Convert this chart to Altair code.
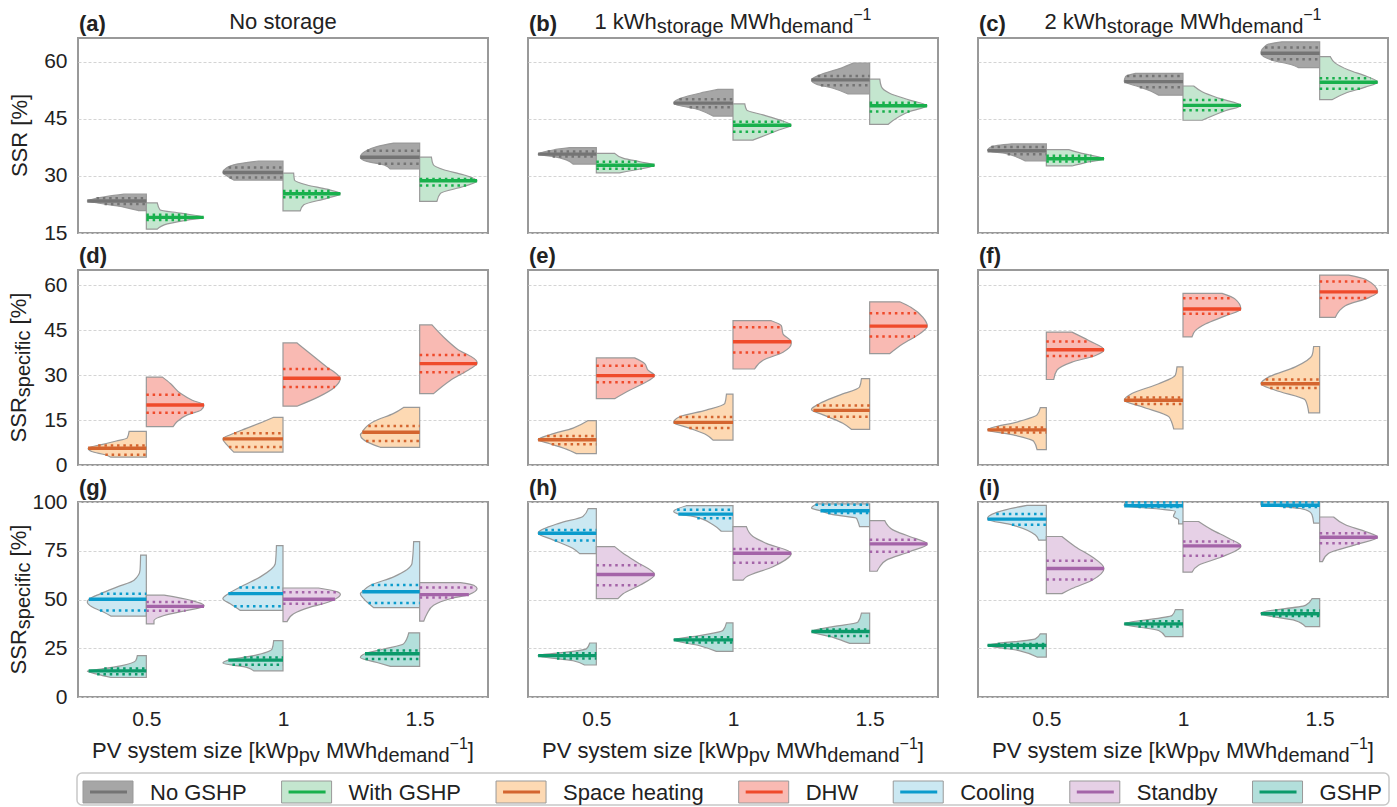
import altair as alt
import numpy as np
import pandas as pd

FONT = "Liberation Sans"
TEXT_COLOR = "#222222"

PV_SIZES = [0.5, 1.0, 1.5]
SERIES = ["No GSHP", "With GSHP", "Space heating", "DHW", "Cooling", "Standby", "GSHP"]
FILL_COLORS = ["#a6a6a6", "#c4e6cf", "#fdd9b3", "#f9bab3", "#cbe8f2", "#e6d0e6", "#b3dfdb"]
LINE_COLORS = ["#747474", "#18b04c", "#d4652f", "#ef4a2b", "#0a9bcc", "#a464a8", "#0b9a6a"]
RIGHT_SIDE = ["With GSHP", "DHW", "Standby"]

ROW_Y_DOMAINS = [[15, 66.2], [0, 65], [0, 100]]
ROW_Y_TICKS = [[15, 30, 45, 60], [0, 15, 30, 45, 60], [0, 25, 50, 75, 100]]

# each violin half: (pv size, series, values top->bottom, half widths, q1, median, q3)
PANEL_A = [
    (0.5, "No GSHP", [25.2, 24.6, 24.0, 23.4, 23.0, 22.1, 20.9], [0.082, 0.143, 0.19, 0.216, 0.19, 0.106, 0.03], 22.6, 23.4, 24.1),
    (0.5, "With GSHP", [22.9, 21.1, 20.2, 19.1, 18.4, 17.4, 16.0], [0.04, 0.05, 0.126, 0.21, 0.15, 0.077, 0.04], 18.4, 19.1, 19.8),
    (1.0, "No GSHP", [33.9, 32.9, 31.6, 30.9, 29.8, 28.9], [0.089, 0.18, 0.215, 0.22, 0.2, 0.18], 29.6, 30.9, 32.2),
    (1.0, "With GSHP", [30.7, 28.9, 27.6, 26.5, 25.3, 24.1, 22.4, 20.8], [0.039, 0.042, 0.088, 0.16, 0.21, 0.16, 0.076, 0.063], 24.4, 25.3, 26.0),
    (1.5, "No GSHP", [38.6, 37.7, 36.4, 34.9, 33.8, 32.9, 31.8], [0.095, 0.156, 0.2, 0.217, 0.193, 0.13, 0.107], 33.2, 34.9, 36.6),
    (1.5, "With GSHP", [34.9, 32.9, 31.6, 30.3, 28.7, 27.2, 25.4, 23.3], [0.043, 0.05, 0.088, 0.16, 0.21, 0.16, 0.076, 0.063], 27.5, 28.7, 29.2),
]
PANEL_B = [
    (0.5, "No GSHP", [37.4, 36.8, 35.7, 35.1, 34.2, 33.1], [0.098, 0.158, 0.213, 0.16, 0.11, 0.085], 35.1, 35.7, 36.4),
    (0.5, "With GSHP", [35.9, 34.6, 33.7, 32.8, 31.8, 30.8], [0.067, 0.1, 0.16, 0.213, 0.16, 0.085], 31.9, 32.8, 33.7),
    (1.0, "No GSHP", [52.7, 51.7, 50.4, 49.1, 47.3, 45.7], [0.055, 0.122, 0.19, 0.217, 0.122, 0.073], 48.0, 49.1, 50.1),
    (1.0, "With GSHP", [48.9, 47.3, 46.0, 44.7, 43.3, 42.1, 39.4], [0.043, 0.05, 0.11, 0.17, 0.213, 0.17, 0.073], 41.6, 43.3, 44.2),
    (1.5, "No GSHP", [59.6, 58.3, 56.5, 55.2, 54.1, 53.0, 51.5], [0.06, 0.104, 0.183, 0.213, 0.195, 0.134, 0.079], 53.8, 55.2, 56.2),
    (1.5, "With GSHP", [55.4, 53.4, 51.7, 49.9, 48.4, 46.9, 43.5], [0.037, 0.043, 0.073, 0.146, 0.21, 0.146, 0.067], 46.9, 48.4, 49.2),
]
PANEL_C = [
    (0.5, "No GSHP", [38.4, 37.7, 36.6, 35.9, 34.9, 33.9], [0.126, 0.2, 0.215, 0.15, 0.107, 0.077], 35.7, 36.6, 37.6),
    (0.5, "With GSHP", [36.9, 35.9, 34.5, 33.5, 32.6], [0.082, 0.13, 0.211, 0.143, 0.094], 33.8, 34.5, 35.3),
    (1.0, "No GSHP", [56.9, 56.1, 54.75, 53.4, 52.1, 51.2], [0.174, 0.21, 0.215, 0.162, 0.113, 0.089], 53.3, 54.75, 56.2),
    (1.0, "With GSHP", [53.6, 52.1, 50.4, 48.5, 47.1, 44.6], [0.039, 0.07, 0.13, 0.212, 0.155, 0.07], 47.2, 48.5, 49.9),
    (1.5, "No GSHP", [65.2, 64.4, 62.2, 60.4, 59.1, 58.4], [0.138, 0.193, 0.215, 0.174, 0.1, 0.077], 60.6, 62.2, 63.7),
    (1.5, "With GSHP", [61.3, 59.6, 57.8, 56.1, 54.6, 53.3, 51.7, 50.0], [0.039, 0.057, 0.106, 0.173, 0.212, 0.167, 0.094, 0.045], 52.9, 54.6, 55.6),
]
PANEL_D = [
    (0.5, "Space heating", [11.2, 9.0, 8.0, 6.9, 5.6, 4.5, 3.4, 2.6], [0.063, 0.07, 0.11, 0.16, 0.213, 0.2, 0.15, 0.13], 3.4, 5.6, 6.5),
    (0.5, "DHW", [29.3, 27.1, 23.8, 21.6, 20.0, 18.3, 16.7, 14.5, 12.8], [0.059, 0.089, 0.126, 0.168, 0.211, 0.2, 0.15, 0.113, 0.098], 17.4, 20.0, 23.4),
    (1.0, "Space heating", [15.9, 14.5, 12.3, 10.1, 8.7, 6.7, 4.3], [0.034, 0.07, 0.132, 0.193, 0.22, 0.205, 0.18], 6.0, 8.7, 10.6),
    (1.0, "DHW", [40.7, 37.1, 32.7, 30.0, 28.9, 26.0, 22.7, 19.6], [0.051, 0.1, 0.16, 0.2, 0.21, 0.19, 0.13, 0.051], 26.0, 28.9, 32.0),
    (1.5, "Space heating", [19.2, 17.2, 14.5, 11.7, 10.9, 10.1, 8.4, 6.7, 5.9], [0.059, 0.095, 0.168, 0.205, 0.21, 0.217, 0.205, 0.168, 0.144], 8.0, 10.9, 13.0),
    (1.5, "DHW", [46.7, 42.6, 38.7, 34.3, 33.8, 32.1, 28.2, 23.8], [0.045, 0.088, 0.137, 0.21, 0.21, 0.185, 0.112, 0.051], 30.9, 33.8, 36.7),
]
PANEL_E = [
    (0.5, "Space heating", [14.8, 12.3, 10.1, 8.4, 7.1, 5.3, 3.8], [0.03, 0.085, 0.17, 0.213, 0.17, 0.11, 0.073], 6.9, 8.4, 9.7),
    (0.5, "DHW", [35.7, 33.8, 31.6, 29.8, 27.1, 24.9, 22.1], [0.14, 0.177, 0.189, 0.213, 0.17, 0.122, 0.067], 27.6, 29.8, 33.1),
    (1.0, "Space heating", [23.6, 20.5, 18.3, 16.1, 14.2, 12.3, 10.1, 8.3], [0.024, 0.03, 0.098, 0.195, 0.217, 0.16, 0.098, 0.073], 12.3, 14.2, 16.0),
    (1.0, "DHW", [48.1, 46.4, 43.7, 41.1, 40.4, 37.6, 34.9, 32.0], [0.14, 0.177, 0.183, 0.213, 0.213, 0.183, 0.11, 0.079], 37.5, 41.1, 45.9),
    (1.5, "Space heating", [28.8, 26.0, 23.3, 20.5, 18.5, 16.7, 13.9, 11.9], [0.03, 0.037, 0.11, 0.183, 0.213, 0.17, 0.098, 0.067], 16.1, 18.2, 19.8),
    (1.5, "DHW", [54.4, 52.5, 49.2, 46.3, 43.7, 40.4, 37.1], [0.11, 0.152, 0.195, 0.211, 0.183, 0.122, 0.073], 42.8, 46.3, 50.6),
]
PANEL_F = [
    (0.5, "Space heating", [19.1, 16.7, 14.5, 11.7, 10.1, 7.9, 5.1], [0.022, 0.034, 0.1, 0.215, 0.126, 0.046, 0.034], 10.8, 11.7, 12.5),
    (0.5, "DHW", [44.3, 41.5, 38.4, 36.5, 34.3, 31.6, 28.5], [0.094, 0.155, 0.211, 0.18, 0.094, 0.039, 0.027], 36.3, 38.4, 41.2),
    (1.0, "Space heating", [32.7, 29.9, 27.1, 23.8, 21.6, 19.4, 16.1, 13.9, 12.0], [0.022, 0.028, 0.089, 0.187, 0.215, 0.15, 0.052, 0.04, 0.034], 20.3, 21.6, 22.5),
    (1.0, "DHW", [57.2, 55.3, 52.0, 49.7, 47.0, 44.8, 42.7], [0.143, 0.191, 0.212, 0.155, 0.082, 0.045, 0.033], 50.4, 52.0, 55.6),
    (1.5, "Space heating", [39.5, 36.5, 32.7, 29.3, 27.1, 24.9, 21.6, 17.4], [0.022, 0.028, 0.089, 0.187, 0.215, 0.162, 0.052, 0.04], 25.7, 27.1, 28.5),
    (1.5, "DHW", [63.3, 61.9, 57.7, 55.8, 53.1, 49.2], [0.106, 0.167, 0.212, 0.18, 0.094, 0.057], 55.7, 57.7, 61.2),
]
PANEL_G = [
    (0.5, "Cooling", [72.8, 65.1, 59.9, 56.5, 53.0, 50.1, 48.7, 46.1, 43.5, 41.5], [0.021, 0.023, 0.045, 0.106, 0.167, 0.21, 0.216, 0.198, 0.155, 0.13], 44.4, 50.1, 53.0),
    (0.5, "Standby", [52.2, 49.6, 47.0, 46.5, 44.4, 41.8, 39.2, 37.5], [0.065, 0.162, 0.211, 0.211, 0.15, 0.065, 0.028, 0.028], 44.2, 46.5, 48.7),
    (1.0, "Cooling", [77.6, 68.5, 61.6, 57.3, 53.0, 50.4, 47.8, 44.4], [0.024, 0.028, 0.083, 0.144, 0.2, 0.22, 0.193, 0.156], 46.5, 53.0, 56.1),
    (1.0, "Standby", [55.9, 53.9, 52.7, 50.1, 48.7, 46.1, 42.7, 38.7], [0.13, 0.2, 0.21, 0.19, 0.167, 0.1, 0.039, 0.015], 47.8, 50.1, 53.7),
    (1.5, "Cooling", [79.7, 68.5, 61.6, 57.3, 54.0, 53.0, 50.4, 45.8], [0.022, 0.028, 0.095, 0.18, 0.21, 0.217, 0.205, 0.168], 48.2, 54.0, 57.5),
    (1.5, "Standby", [58.7, 57.3, 55.6, 52.5, 50.4, 47.0, 42.7, 38.9], [0.149, 0.198, 0.21, 0.18, 0.112, 0.051, 0.027, 0.015], 51.0, 52.5, 56.1),
    (0.5, "GSHP", [21.2, 18.6, 16.0, 14.3, 13.3, 11.7, 10.0], [0.033, 0.039, 0.094, 0.167, 0.216, 0.18, 0.13], 11.7, 13.4, 14.6),
    (1.0, "GSHP", [28.9, 24.6, 21.2, 18.9, 17.4, 15.1, 13.4], [0.034, 0.04, 0.107, 0.2, 0.22, 0.13, 0.107], 16.5, 18.9, 20.3),
    (1.5, "GSHP", [32.9, 27.2, 24.6, 22.2, 20.3, 17.7, 15.7], [0.04, 0.059, 0.132, 0.2, 0.217, 0.156, 0.107], 19.5, 22.2, 23.8),
]
PANEL_H = [
    (0.5, "Cooling", [96.6, 92.6, 89.2, 84.0, 80.6, 76.2, 73.5], [0.03, 0.049, 0.134, 0.213, 0.159, 0.085, 0.061], 80.2, 84.0, 85.7),
    (0.5, "Standby", [77.1, 73.7, 69.4, 62.8, 57.3, 53.0, 50.4], [0.067, 0.098, 0.146, 0.213, 0.159, 0.098, 0.079], 57.3, 62.8, 67.6),
    (1.0, "Cooling", [98.1, 95.2, 93.8, 92.6, 88.3, 85.0], [0.171, 0.217, 0.2, 0.146, 0.073, 0.043], 91.7, 93.8, 96.0),
    (1.0, "Standby", [87.4, 82.3, 78.8, 73.7, 66.8, 61.6, 59.9], [0.049, 0.073, 0.122, 0.213, 0.146, 0.049, 0.037], 68.8, 73.7, 75.9),
    (1.5, "Cooling", [99.0, 96.9, 95.5, 93.5, 91.7, 90.0, 87.4], [0.195, 0.213, 0.18, 0.134, 0.049, 0.043, 0.037], 94.3, 95.5, 98.6),
    (1.5, "Standby", [90.5, 85.7, 82.3, 78.5, 74.5, 70.2, 66.8, 64.5], [0.055, 0.085, 0.146, 0.211, 0.146, 0.061, 0.037, 0.027], 74.5, 78.5, 80.7),
    (0.5, "GSHP", [27.7, 24.6, 23.0, 21.2, 18.6, 16.4], [0.024, 0.037, 0.11, 0.213, 0.085, 0.043], 19.8, 21.2, 22.4),
    (1.0, "GSHP", [38.0, 34.1, 31.5, 29.3, 26.3, 23.4], [0.024, 0.037, 0.122, 0.217, 0.122, 0.061], 27.9, 29.3, 30.6),
    (1.5, "GSHP", [43.0, 38.4, 35.8, 33.6, 30.6, 27.5], [0.03, 0.043, 0.146, 0.213, 0.134, 0.073], 31.3, 33.6, 34.6),
]
PANEL_I = [
    (0.5, "Cooling", [98.3, 96.0, 91.7, 91.2, 88.3, 83.1, 80.4], [0.071, 0.15, 0.215, 0.215, 0.126, 0.04, 0.028], 88.3, 91.2, 93.8),
    (0.5, "Standby", [82.3, 77.1, 71.9, 65.9, 59.9, 55.6, 53.0], [0.057, 0.106, 0.167, 0.211, 0.167, 0.094, 0.057], 60.2, 65.9, 69.9),
    (1.0, "Cooling", [100.0, 98.1, 96.4, 95.2, 92.6, 90.9, 88.8], [0.211, 0.215, 0.089, 0.028, 0.035, 0.016, 0.016], 97.4, 98.1, 99.7),
    (1.0, "Standby", [90.0, 85.7, 81.4, 77.5, 71.9, 67.6, 64.0], [0.057, 0.106, 0.167, 0.212, 0.143, 0.057, 0.033], 72.5, 77.5, 79.7),
    (1.5, "Cooling", [100.0, 98.3, 97.8, 96.0, 93.5, 89.2], [0.215, 0.215, 0.15, 0.052, 0.028, 0.022], 97.5, 98.3, 99.7),
    (1.5, "Standby", [92.3, 88.3, 84.9, 81.9, 78.0, 73.7, 69.4], [0.051, 0.094, 0.167, 0.212, 0.13, 0.033, 0.01], 78.8, 81.9, 84.0),
    (0.5, "GSHP", [32.4, 29.8, 26.5, 23.8, 20.5], [0.022, 0.04, 0.215, 0.1, 0.034], 25.1, 26.5, 27.2),
    (1.0, "GSHP", [44.8, 41.8, 37.5, 34.1, 31.0], [0.028, 0.04, 0.215, 0.089, 0.065], 36.1, 37.5, 38.9),
    (1.5, "GSHP", [50.4, 47.0, 43.2, 42.7, 39.2, 36.1], [0.028, 0.052, 0.215, 0.215, 0.089, 0.052], 41.5, 42.7, 44.4),
]
PANELS = [PANEL_A, PANEL_B, PANEL_C, PANEL_D, PANEL_E, PANEL_F, PANEL_G, PANEL_H, PANEL_I]
LETTERS = ["(a)", "(b)", "(c)", "(d)", "(e)", "(f)", "(g)", "(h)", "(i)"]

# heading segments: (text, font size, baseline shift)
HEAD_A = [("No storage", 22, 0)]
HEAD_B = [("1 kWh", 22, 0), ("storage", 20, 4), (" MWh", 22, 0), ("demand", 20, 4), ("\u22121", 16, -9)]
HEAD_C = [("2 kWh", 22, 0), ("storage", 20, 4), (" MWh", 22, 0), ("demand", 20, 4), ("\u22121", 16, -9)]
X_TITLE = [("PV system size [kWp", 22, 0), ("pv", 20, 4), (" MWh", 22, 0), ("demand", 20, 4),
           ("\u22121", 16, -9), ("]", 22, 0)]
Y_TITLE_1 = [("SSR [%]", 22, 0)]
Y_TITLE_2 = [("SSR", 22, 0), ("specific", 20, 4), (" [%]", 22, 0)]

PW, PH = 410, 195

CHAR_W = {" ": 278, "(": 333, ")": 333, "[": 278, "]": 278, "%": 889, ".": 278, "\u2212": 584,
          "A": 667, "C": 722, "D": 722, "G": 778, "H": 722, "M": 833, "N": 722, "P": 667,
          "R": 722, "S": 667, "V": 667, "W": 944,
          "a": 556, "b": 556, "c": 500, "d": 556, "e": 556, "f": 278, "g": 556, "h": 556,
          "i": 222, "k": 500, "l": 222, "m": 833, "n": 556, "o": 556, "p": 556, "r": 333,
          "s": 500, "t": 278, "v": 500, "w": 722, "y": 500, "z": 500}


def tw(s, fs):
    return sum(CHAR_W.get(c, 556) for c in s) * fs / 1000.0


def txt(t, x, y, fs, weight="normal", angle=0, align="left"):
    return alt.Chart(pd.DataFrame({"t": [t]})).mark_text(
        align=align, baseline="alphabetic", font=FONT, fontSize=fs, fontWeight=weight,
        color=TEXT_COLOR, angle=angle,
    ).encode(x=alt.value(x), y=alt.value(y), text="t:N")


def seg_h(segs, xc, yb):
    total = sum(tw(t, fs) for t, fs, _ in segs)
    x = xc - total / 2
    out = []
    for t, fs, sh in segs:
        lead = len(t) - len(t.lstrip(" "))
        out.append(txt(t.strip(" "), x + tw(" " * lead, fs), yb + sh, fs))
        x += tw(t, fs)
    return out


def seg_v(segs, xb, yc):
    total = sum(tw(t, fs) for t, fs, _ in segs)
    y = yc + total / 2
    out = []
    for t, fs, sh in segs:
        lead = len(t) - len(t.lstrip(" "))
        out.append(txt(t.strip(" "), xb + sh, y - tw(" " * lead, fs), fs, angle=270))
        y -= tw(t, fs)
    return out


def violin_frames(panel):
    area_rows, rule_rows = [], []
    for k, (pv, ser, vals, widths, q1, med, q3) in enumerate(panel):
        right = ser in RIGHT_SIDE
        v = np.array(vals[::-1], dtype=float)
        w = np.array(widths[::-1], dtype=float)
        for vi, wi in zip(v, w):
            x0, x1 = (pv, pv + wi) if right else (pv - wi, pv)
            area_rows.append(dict(vid=k, series=ser, value=vi, x0=x0, x1=x1))
        for kind, q in (("q", q1), ("m", med), ("q", q3)):
            wq = float(np.interp(q, v, w))
            x0, x1 = (pv, pv + wq) if right else (pv - wq, pv)
            rule_rows.append(dict(vid=k, series=ser, kind=kind, value=q, x0=x0, x1=x1))
    return pd.DataFrame(area_rows), pd.DataFrame(rule_rows)


def legend_layers(top):
    out = []
    box = alt.Chart(pd.DataFrame({"k": [0]})).mark_rect(
        fill="white", stroke="#c8c8c8", strokeWidth=1.5, cornerRadius=5
    ).encode(x=alt.value(-1), x2=alt.value(3 * PW + 81), y=alt.value(top), y2=alt.value(top + 32))
    out.append(box)
    px = 5
    for ser, fc, lc in zip(SERIES, FILL_COLORS, LINE_COLORS):
        patch = alt.Chart(pd.DataFrame({"k": [0]})).mark_rect(
            fill=fc, stroke="#999999", strokeWidth=1
        ).encode(x=alt.value(px), x2=alt.value(px + 50), y=alt.value(top + 8), y2=alt.value(top + 30))
        line = alt.Chart(pd.DataFrame({"k": [0]})).mark_rule(
            stroke=lc, strokeWidth=3
        ).encode(x=alt.value(px + 7), x2=alt.value(px + 44), y=alt.value(top + 19))
        out += [patch, line, txt(ser, px + 67, top + 27, 22)]
        px += 67 + tw(ser, 22) + 35
    return out


def panel(idx):
    row, col = divmod(idx, 3)
    areas, rules = violin_frames(PANELS[idx])
    xs = alt.Scale(domain=[0.25, 1.75], nice=False, zero=False)
    ys = alt.Scale(domain=ROW_Y_DOMAINS[row], nice=False, zero=False)
    xaxis = alt.Axis(values=PV_SIZES, format="~g", grid=False, ticks=False, tickSize=0, domain=False,
                     labels=(row == 2), labelFontSize=21, labelPadding=11, labelColor=TEXT_COLOR,
                     labelFont=FONT, title=None)
    yaxis = alt.Axis(values=ROW_Y_TICKS[row], grid=True, gridDash=[3, 2], gridColor="#d4d4d4",
                     gridWidth=1, ticks=False, tickSize=0, domain=False, labels=(col == 0),
                     labelFontSize=21, labelPadding=11, labelColor=TEXT_COLOR, labelFont=FONT,
                     title=None)
    fill_scale = alt.Scale(domain=SERIES, range=FILL_COLORS)
    line_scale = alt.Scale(domain=SERIES, range=LINE_COLORS)

    X = alt.X("x0:Q", scale=xs, axis=xaxis, stack=None)
    Y = alt.Y("value:Q", scale=ys, axis=yaxis)

    area = alt.Chart(areas).mark_area(
        orient="horizontal", interpolate="monotone", stroke="#999999", strokeWidth=1.2
    ).encode(
        y=Y, x=X, x2="x1:Q",
        fill=alt.Fill("series:N", scale=fill_scale, legend=None),
        detail="vid:N",
    )
    quart = alt.Chart(rules[rules["kind"] == "q"]).mark_rule(
        strokeWidth=2.5, strokeDash=[2.5, 3.8]
    ).encode(y=Y, x=X, x2="x1:Q", stroke=alt.Stroke("series:N", scale=line_scale, legend=None))
    med = alt.Chart(rules[rules["kind"] == "m"]).mark_rule(strokeWidth=3.4).encode(
        y=Y, x=X, x2="x1:Q", stroke=alt.Stroke("series:N", scale=line_scale, legend=None))

    layers = [area, quart, med, txt(LETTERS[idx], 1, -7, 22, weight="bold")]
    if row == 0:
        layers += seg_h([HEAD_A, HEAD_B, HEAD_C][col], PW / 2, -9)
    if col == 0:
        layers += seg_v(Y_TITLE_1 if row == 0 else Y_TITLE_2, -51 if row == 0 else -52, PH / 2)
    if row == 2:
        layers += seg_h(X_TITLE, PW / 2, PH + 61)
    if idx == 6:
        layers += legend_layers(271)
    return alt.layer(*layers).properties(width=PW, height=PH)


chart = alt.concat(
    *[panel(i) for i in range(9)], columns=3, spacing={"row": 37, "column": 40}, bounds="flush"
).properties(
    padding={"left": 7, "top": 6, "right": 4, "bottom": 0}
).configure(font=FONT).configure_view(stroke="#999999", strokeWidth=2)

chart.save("out.html", embed_options={"renderer": "svg", "actions": False})
